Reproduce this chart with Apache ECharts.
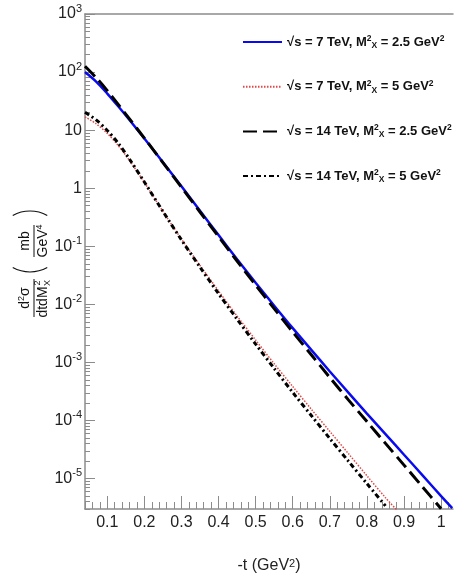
<!DOCTYPE html>
<html>
<head>
<meta charset="utf-8">
<script src="https://cdn.jsdelivr.net/npm/echarts@6/dist/echarts.min.js"></script>
<style>
  html, body { margin: 0; padding: 0; background: #fff; }
  #chart { width: 454px; height: 575px; }
</style>
</head>
<body>
<div id="chart"></div>
<script>
// -t (GeV^2) sample points
const tHard = [0.04, 0.07, 0.10, 0.13, 0.16, 0.20, 0.25, 0.30, 0.35, 0.40, 0.45, 0.50,
  0.55, 0.60, 0.65, 0.70, 0.75, 0.80, 0.85, 0.90, 0.95, 1.00, 1.03];
const tSoft = [0.04, 0.07, 0.10, 0.13, 0.16, 0.20, 0.25, 0.30, 0.35, 0.40, 0.45, 0.50,
  0.55, 0.60, 0.65, 0.70, 0.75, 0.80, 0.85, 0.88];

// d2sigma / dt dMx2 (mb/GeV^4)
const s7m25 = [100, 68.4, 42.7, 25.6, 15.0, 7.2, 2.8, 1.08, 0.41, 0.156, 0.060, 0.0235,
  0.0095, 0.0039, 0.00165, 7.0e-4, 3.03e-4, 1.32e-4, 5.85e-5, 2.58e-5, 1.14e-5, 5.0e-6, 3.1e-6];
const s7m5 = [17.0, 12.9, 8.8, 5.4, 3.0, 1.26, 0.40, 0.133, 0.047, 0.017, 0.0063, 0.00243,
  9.5e-4, 3.85e-4, 1.57e-4, 6.5e-5, 2.7e-5, 1.12e-5, 4.7e-6, 2.9e-6];
const s14m25 = [126, 80, 47.9, 27.5, 15.6, 7.3, 2.77, 1.04, 0.39, 0.147, 0.0558, 0.0215,
  0.00845, 0.00336, 0.00136, 5.5e-4, 2.27e-4, 9.6e-5, 4.05e-5, 1.71e-5, 7.2e-6, 3.03e-6];
const s14m5 = [20.4, 15.0, 9.9, 5.9, 3.16, 1.28, 0.40, 0.129, 0.0437, 0.0153, 0.00556, 0.00207,
  7.9e-4, 3.05e-4, 1.22e-4, 4.9e-5, 2.0e-5, 8.2e-6, 3.4e-6];

const seriesNames = ['7 TeV, 2.5', '7 TeV, 5', '14 TeV, 2.5', '14 TeV, 5'];
const legendLabels = [
  '√s = 7 TeV, M{sup|2}{sub|X} = 2.5 GeV{sup|2}',
  '√s = 7 TeV, M{sup|2}{sub|X} = 5 GeV{sup|2}',
  '√s = 14 TeV, M{sup|2}{sub|X} = 2.5 GeV{sup|2}',
  '√s = 14 TeV, M{sup|2}{sub|X} = 5 GeV{sup|2}'
];

const xTicks = [0.1, 0.2, 0.3, 0.4, 0.5, 0.6, 0.7, 0.8, 0.9, 1.0];
const yDecades = [-5, -4, -3, -2, -1, 0, 1, 2, 3];

const FONT = '"Liberation Sans", Arial, Helvetica, sans-serif';
const AXIS = '#8c8c8c';
const X_MIN = 0.04, X_MAX = 1.032;
const Y_MIN = Math.log10(3e-6), Y_MAX = 3;

// minor ticks
const xMinor = [];
for (let i = 2; i <= 51; i++) {
  const v = +(i * 0.02).toFixed(2);
  if (Math.abs(v * 10 - Math.round(v * 10)) > 1e-6) xMinor.push(v);
}
const yMinor = [];
for (let k = -6; k < 3; k++) {
  for (let m = 2; m <= 9; m++) {
    const v = k + Math.log10(m);
    if (v >= Y_MIN) yMinor.push(v);
  }
}

function pairs(ts, vals) {
  return vals.map((v, i) => [ts[i], Math.log10(v)]);
}

const chart = echarts.init(document.getElementById('chart'));

const supRich = {
  b: { fontSize: 16, fontFamily: FONT, color: '#222', lineHeight: 22 },
  sup: { fontSize: 11, fontFamily: FONT, color: '#222', verticalAlign: 'top', lineHeight: 12 }
};

function tx(text, u, v, size, rich) {
  return {
    type: 'text', x: u, y: v,
    style: { text: text, fontSize: size, fontFamily: FONT, fill: '#111',
      align: 'center', verticalAlign: 'middle', rich: rich || {} }
  };
}
function bar(u1, u2) {
  return { type: 'line', shape: { x1: u1, y1: 0, x2: u2, y2: 0 }, style: { stroke: '#111', lineWidth: 1 } };
}
const smallRich = { s: { fontSize: 9, fontFamily: FONT, fill: '#111', verticalAlign: 'top', lineHeight: 15 } };

const lineCommon = { type: 'line', smooth: 0.3, symbol: 'none', xAxisIndex: 0, yAxisIndex: 0 };

chart.setOption({
  backgroundColor: '#fff',
  animation: false,
  grid: { left: 85, right: 1, top: 14, bottom: 66, containLabel: false, outerBoundsMode: 'none' },
  legend: {
    orient: 'vertical',
    left: 237, top: 29,
    itemWidth: 39, itemHeight: 14, itemGap: 28.7,
    data: seriesNames,
    itemStyle: { opacity: 0, borderWidth: 0 },
    formatter: name => legendLabels[seriesNames.indexOf(name)],
    textStyle: {
      fontFamily: FONT, fontSize: 13, fontWeight: 'bold', color: '#111', lineHeight: 16,
      rich: {
        sup: { fontFamily: FONT, fontSize: 8.5, fontWeight: 'bold', color: '#111', verticalAlign: 'top', lineHeight: 16 },
        sub: { fontFamily: FONT, fontSize: 8.5, fontWeight: 'bold', color: '#111', verticalAlign: 'bottom', lineHeight: 16 }
      }
    }
  },
  xAxis: [
    {
      type: 'value', min: X_MIN, max: X_MAX, position: 'bottom',
      axisLine: { show: true, onZero: false, lineStyle: { color: AXIS, width: 1.5 } },
      axisTick: { show: true, inside: true, length: 13, customValues: xTicks, lineStyle: { color: AXIS } },
      axisLabel: { customValues: xTicks, margin: 6, fontSize: 16, fontFamily: FONT, color: '#222',
        formatter: v => String(v) },
      splitLine: { show: false },
      name: '-t (GeV{sup|2})',
      nameLocation: 'middle', nameGap: 49,
      nameTextStyle: { fontSize: 16, fontFamily: FONT, color: '#222',
        rich: { sup: { fontSize: 11, fontFamily: FONT, color: '#222', verticalAlign: 'top', lineHeight: 12 } } }
    },
    {
      type: 'value', min: X_MIN, max: X_MAX, position: 'bottom',
      axisLine: { show: false, onZero: false },
      axisTick: { show: true, inside: true, length: 7, customValues: xMinor, lineStyle: { color: AXIS } },
      axisLabel: { show: false }, splitLine: { show: false }
    },
    {
      type: 'value', min: X_MIN, max: X_MAX, position: 'top',
      axisLine: { show: true, onZero: false, lineStyle: { color: AXIS, width: 1.5 } },
      axisTick: { show: false }, axisLabel: { show: false }, splitLine: { show: false }
    }
  ],
  yAxis: [
    {
      type: 'value', min: Y_MIN, max: Y_MAX, position: 'left',
      axisLine: { show: true, onZero: false, lineStyle: { color: AXIS, width: 1.5 } },
      axisTick: { show: true, inside: true, length: 10, customValues: yDecades, lineStyle: { color: AXIS } },
      axisLabel: {
        customValues: yDecades, margin: 3, rich: supRich,
        formatter: v => {
          if (v === 0) return '{b|1}';
          if (v === 1) return '{b|10}';
          return '{b|10}{sup|' + v + '}';
        }
      },
      splitLine: { show: false }
    },
    {
      type: 'value', min: Y_MIN, max: Y_MAX, position: 'left',
      axisLine: { show: false, onZero: false },
      axisTick: { show: true, inside: true, length: 5, customValues: yMinor, lineStyle: { color: AXIS } },
      axisLabel: { show: false }, splitLine: { show: false }
    }
  ],
  graphic: [
    {
      type: 'group', x: 34, y: 260, rotation: Math.PI / 2,
      children: [
        tx('d{s|2}σ', -38, -9, 14, smallRich),
        bar(-57, -19),
        tx('dtdM', -42, 9, 14),
        tx('2', -23, 4, 9),
        tx('X', -23, 14, 9),
        { type: 'arc', shape: { cx: 24, cy: -4, r: 36, startAngle: Math.PI - 0.5, endAngle: Math.PI + 0.5, clockwise: true },
          style: { stroke: '#111', lineWidth: 1.2, fill: null } },
        tx('mb', 19, -9, 14),
        bar(3, 35),
        tx('GeV{s|4}', 19, 9, 14, smallRich),
        { type: 'arc', shape: { cx: 13, cy: -4, r: 36, startAngle: -0.5, endAngle: 0.5, clockwise: true },
          style: { stroke: '#111', lineWidth: 1.2, fill: null } }
      ]
    }
  ],
  series: [
    Object.assign({}, lineCommon, {
      name: seriesNames[0], data: pairs(tHard, s7m25),
      lineStyle: { color: '#0a0af0', width: 2.5, type: 'solid' },
      itemStyle: { color: '#0a0af0' }
    }),
    Object.assign({}, lineCommon, {
      name: seriesNames[1], data: pairs(tSoft, s7m5),
      lineStyle: { color: '#e04848', width: 1.5, type: [1.5, 1.5] },
      itemStyle: { color: '#e04848' }
    }),
    Object.assign({}, lineCommon, {
      name: seriesNames[2], data: pairs(tHard, s14m25),
      lineStyle: { color: '#000', width: 3, type: [14, 6] },
      itemStyle: { color: '#000' }
    }),
    Object.assign({}, lineCommon, {
      name: seriesNames[3], data: pairs(tSoft, s14m5),
      lineStyle: { color: '#000', width: 3, type: [5, 3, 2, 3] },
      itemStyle: { color: '#000' }
    })
  ]
});
</script>
</body>
</html>
